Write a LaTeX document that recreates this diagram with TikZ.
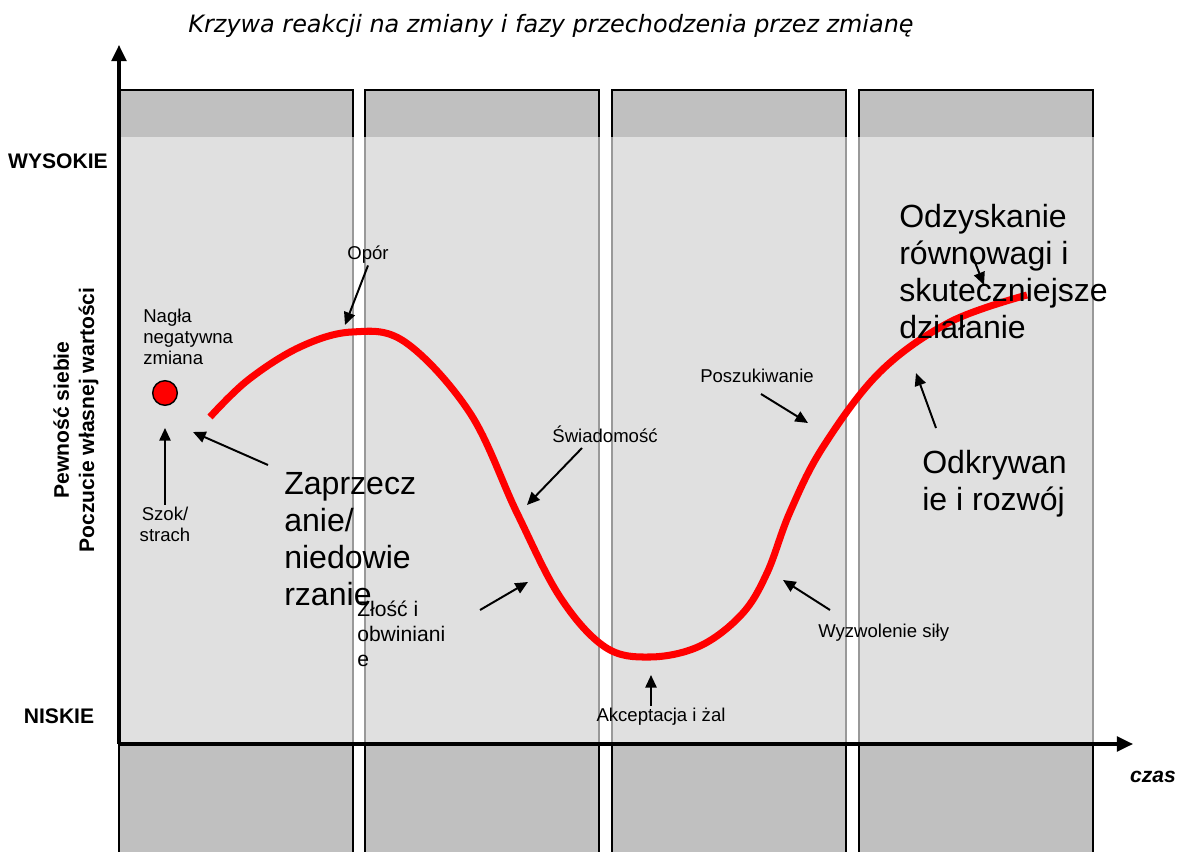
\documentclass[tikz,border=0pt]{standalone}
\usepackage{fontspec}
\setmainfont{Liberation Sans}
\newfontfamily\titlefont{DejaVu Sans}
\usetikzlibrary{arrows.meta}

\definecolor{bandtop}{HTML}{C0C0C0}
\definecolor{bandbody}{HTML}{E0E0E0}
\definecolor{bandedge}{HTML}{999999}

\begin{document}
\begin{tikzpicture}[
  x=0.025cm, y=-0.025cm,
  lbl/.style={align=center, inner sep=1pt, font=\fontsize{13.2}{15}\selectfont},
  big/.style={align=left, anchor=west, inner sep=0pt, font=\fontsize{22.8}{26.3}\selectfont},
  level/.style={align=center, inner sep=0pt, font=\bfseries\fontsize{15}{18}\selectfont},
  arrow/.style={-{Triangle[length=9pt,width=8pt]}, line width=1.4pt},
  axis/.style={-{Triangle[length=11.5pt,width=10.5pt]}, line width=2.2pt},
  curve/.style={red, line width=5pt}
]
\useasboundingbox (0,0) rectangle (1183,852);

% phase columns
\foreach \x in {119,365,612,859} {
  \fill[bandbody] (\x,137) rectangle (\x+234,744);
  \fill[bandtop] (\x,90) rectangle (\x+234,137);
  \fill[bandtop] (\x,744) rectangle (\x+234,852);
  \draw[bandedge, line width=1pt] (\x,137) -- (\x,744) (\x+234,137) -- (\x+234,744);
  \draw[line width=1.2pt] (\x,137) |- (\x+234,90) -- (\x+234,137);
  \draw[line width=1.2pt] (\x,744) -- (\x,852) (\x+234,744) -- (\x+234,852);
}

\node[font=\titlefont\itshape\fontsize{17}{20}\selectfont] (title) at (551,26)
  {Krzywa reakcji na zmiany i fazy przechodzenia przez zmianę};

% axes
\coordinate (origin) at (119,744);
\coordinate (ytop) at (119,45);
\coordinate (xend) at (1133,744);
\draw[axis] (origin) -- (ytop);
\draw[axis] (origin) -- (xend);

\node[level] (high) at (58,161) {WYSOKIE};
\node[level] (low) at (59,716) {NISKIE};
\node[level, rotate=90] (yname) at (76,420) {Pewność siebie\\Poczucie własnej wartości};
\node[level, font=\bfseries\itshape\fontsize{15}{18}\selectfont] (time) at (1153,777) {czas};

% reaction curve
\draw[curve] plot[smooth, tension=0.6] coordinates {
  (210,417) (248,380) (300,347) (352,332) (405,342) (470,413) (517,513)
  (560,597) (605,647) (650,657) (700,646) (742,614) (767,573)
  (790,512) (823,447) (880,372) (950,322) (1027,295)};

\node[circle, draw, line width=1pt, fill=red, minimum size=17.5pt, inner sep=0pt] (shock) at (165,393) {};

\node[lbl, anchor=west, align=left, inner sep=0pt] (sudden) at (143,337) {Nagła\\negatywna\\zmiana};
\node[lbl] (fear) at (165,524) {Szok/\\strach};
\coordinate (c-fear) at (165,428);
\draw[arrow] (fear.north) -- (c-fear);

\node[big] (denial) at (284,539) {Zaprzecz\\anie/\\niedowie\\rzanie};
\coordinate (t-denial) at (268,465);
\coordinate (c-denial) at (193,432);
\draw[arrow] (t-denial) -- (c-denial);

\node[lbl] (resist) at (368,255) {Opór};
\coordinate (c-resist) at (345,325);
\draw[arrow] (resist.south) -- (c-resist);

\node[lbl] (aware) at (605,434) {Świadomość};
\coordinate (t-aware) at (582,448);
\coordinate (c-aware) at (527,505);
\draw[arrow] (t-aware) -- (c-aware);

\node[lbl, anchor=west, align=left, inner sep=0pt, font=\fontsize{15}{17.8}\selectfont] (anger) at (357,634) {Złość i\\obwiniani\\e};
\coordinate (t-anger) at (480,610);
\coordinate (c-anger) at (528,582);
\draw[arrow] (t-anger) -- (c-anger);

\node[lbl] (accept) at (661,717) {Akceptacja i żal};
\coordinate (t-accept) at (651,706);
\coordinate (c-accept) at (651,675);
\draw[arrow] (t-accept) -- (c-accept);

\node[lbl, anchor=west, inner sep=0pt] (release) at (818,633) {Wyzwolenie siły};
\coordinate (t-release) at (830,610);
\coordinate (c-release) at (783,580);
\draw[arrow] (t-release) -- (c-release);

\node[lbl] (search) at (757,376) {Poszukiwanie};
\coordinate (t-search) at (761,394);
\coordinate (c-search) at (808,423);
\draw[arrow] (t-search) -- (c-search);

\node[big] (discover) at (922,484) {Odkrywan\\ie i rozwój};
\coordinate (t-discover) at (936,428);
\coordinate (c-discover) at (916,373);
\draw[arrow] (t-discover) -- (c-discover);

\node[big] (recover) at (899,272) {Odzyskanie\\równowagi i\\skuteczniejsze\\działanie};
\coordinate (t-recover) at (972,255);
\coordinate (c-recover) at (984,285);
\draw[arrow] (t-recover) -- (c-recover);

\end{tikzpicture}
\end{document}
